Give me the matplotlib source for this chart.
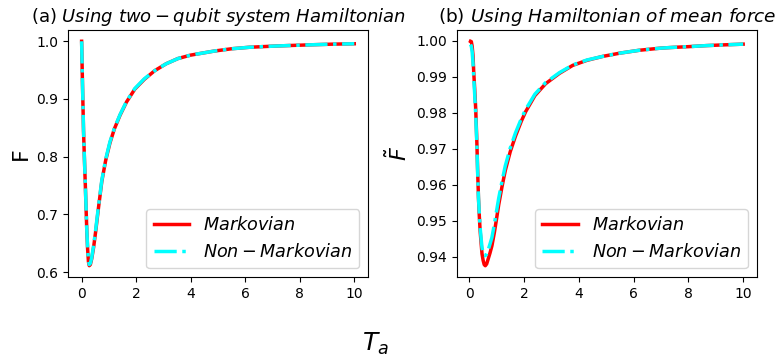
import numpy as np
import matplotlib
matplotlib.use('Agg')
import matplotlib.pyplot as plt

# (a) two-qubit system Hamiltonian
ta_a = [0.0, 0.03, 0.07, 0.10, 0.13, 0.16, 0.19, 0.22, 0.25, 0.28, 0.32, 0.37,
        0.44, 0.52, 0.62, 0.74, 0.88, 1.04, 1.2, 1.41, 1.65, 1.95, 2.3, 2.68,
        3.1, 3.53, 4.0, 4.86, 5.5, 6.15, 7.0, 7.6, 8.5, 9.2, 9.78, 10.0]
mark_a = [1.000, 0.930, 0.845, 0.800, 0.759, 0.715, 0.672, 0.640, 0.618, 0.611,
          0.613, 0.623, 0.643, 0.672, 0.712, 0.757, 0.793, 0.824, 0.848, 0.872,
          0.895, 0.917, 0.934, 0.949, 0.961, 0.970, 0.976, 0.983, 0.987, 0.9896,
          0.9915, 0.9926, 0.9940, 0.9950, 0.9955, 0.9957]
nonmark_a = [1.000, 0.930, 0.846, 0.801, 0.760, 0.716, 0.673, 0.641, 0.620, 0.613,
             0.615, 0.625, 0.646, 0.675, 0.715, 0.759, 0.795, 0.826, 0.849, 0.873,
             0.896, 0.918, 0.935, 0.949, 0.961, 0.970, 0.976, 0.983, 0.987, 0.9896,
             0.9915, 0.9926, 0.9940, 0.9950, 0.9955, 0.9957]

# (b) Hamiltonian of mean force
ta_b = [0.05, 0.08, 0.11, 0.14, 0.17, 0.20, 0.24, 0.28, 0.31, 0.34, 0.37, 0.40,
        0.44, 0.47, 0.51, 0.55, 0.59, 0.64, 0.70, 0.76, 0.83, 0.92, 1.0, 1.08,
        1.2, 1.32, 1.5, 1.69, 1.9, 2.06, 2.4, 2.79, 3.3, 3.78, 4.3, 4.88, 5.5,
        6.21, 7.0, 7.44, 8.0, 8.67, 9.3, 10.0]
mark_b = [0.9999, 0.9998, 0.9985, 0.9960, 0.9910, 0.9870, 0.9810, 0.9723, 0.9640,
          0.9565, 0.9515, 0.9473, 0.9435, 0.9408, 0.9390, 0.9378, 0.9375, 0.9380,
          0.9395, 0.9410, 0.9430, 0.9467, 0.9505, 0.9545, 0.9595, 0.9640, 0.9692,
          0.9735, 0.9776, 0.9803, 0.9848, 0.9881, 0.9910, 0.9932, 0.9946, 0.9957,
          0.9966, 0.9974, 0.9980, 0.9982, 0.9984, 0.9987, 0.9989, 0.9991]
nonmark_b = [0.9990, 0.9985, 0.9970, 0.9940, 0.9895, 0.9855, 0.9795, 0.9715, 0.9635,
             0.9565, 0.9520, 0.9482, 0.9448, 0.9425, 0.9410, 0.9404, 0.9403, 0.9408,
             0.9420, 0.9435, 0.9453, 0.9490, 0.9527, 0.9563, 0.9610, 0.9653, 0.9702,
             0.9744, 0.9783, 0.9809, 0.9852, 0.9884, 0.9912, 0.9933, 0.9947, 0.9957,
             0.9966, 0.9974, 0.9980, 0.9982, 0.9984, 0.9987, 0.9989, 0.9991]

fig = plt.figure(figsize=(7.77, 3.62), dpi=100)
ax1 = fig.add_axes([0.0875, 0.235, 0.386, 0.682])
ax2 = fig.add_axes([0.588, 0.235, 0.386, 0.682])

for ax, t, m, n in [(ax1, ta_a, mark_a, nonmark_a), (ax2, ta_b, mark_b, nonmark_b)]:
    ax.plot(t, m, color='red', lw=2.5, label='$Markovian$')
    ax.plot(t, n, color='cyan', lw=2.5, ls='-.', label='$Non-Markovian$')
    ax.legend(loc='lower right', fontsize=12.7)
    ax.tick_params(labelsize=10)
    ax.set_xticks([0, 2, 4, 6, 8, 10])

ax1.set_yticks([0.6, 0.7, 0.8, 0.9, 1.0])
ax2.set_yticks([0.94, 0.95, 0.96, 0.97, 0.98, 0.99, 1.00])
ax2.set_yticklabels(['0.94', '0.95', '0.96', '0.97', '0.98', '0.99', '1.00'])

ax1.set_title(r'(a) $Using\ two-qubit\ system\ Hamiltonian$', fontsize=13)
ax2.set_title(r'(b) $Using\ Hamiltonian\ of\ mean\ force$', fontsize=13.3)
ax1.set_ylabel('F', fontsize=16)
ax2.set_ylabel(r'$\tilde{F}$', fontsize=16)
fig.text(0.483, 0.03, '$T_a$', fontsize=18, ha='center')

plt.savefig('out.png')
